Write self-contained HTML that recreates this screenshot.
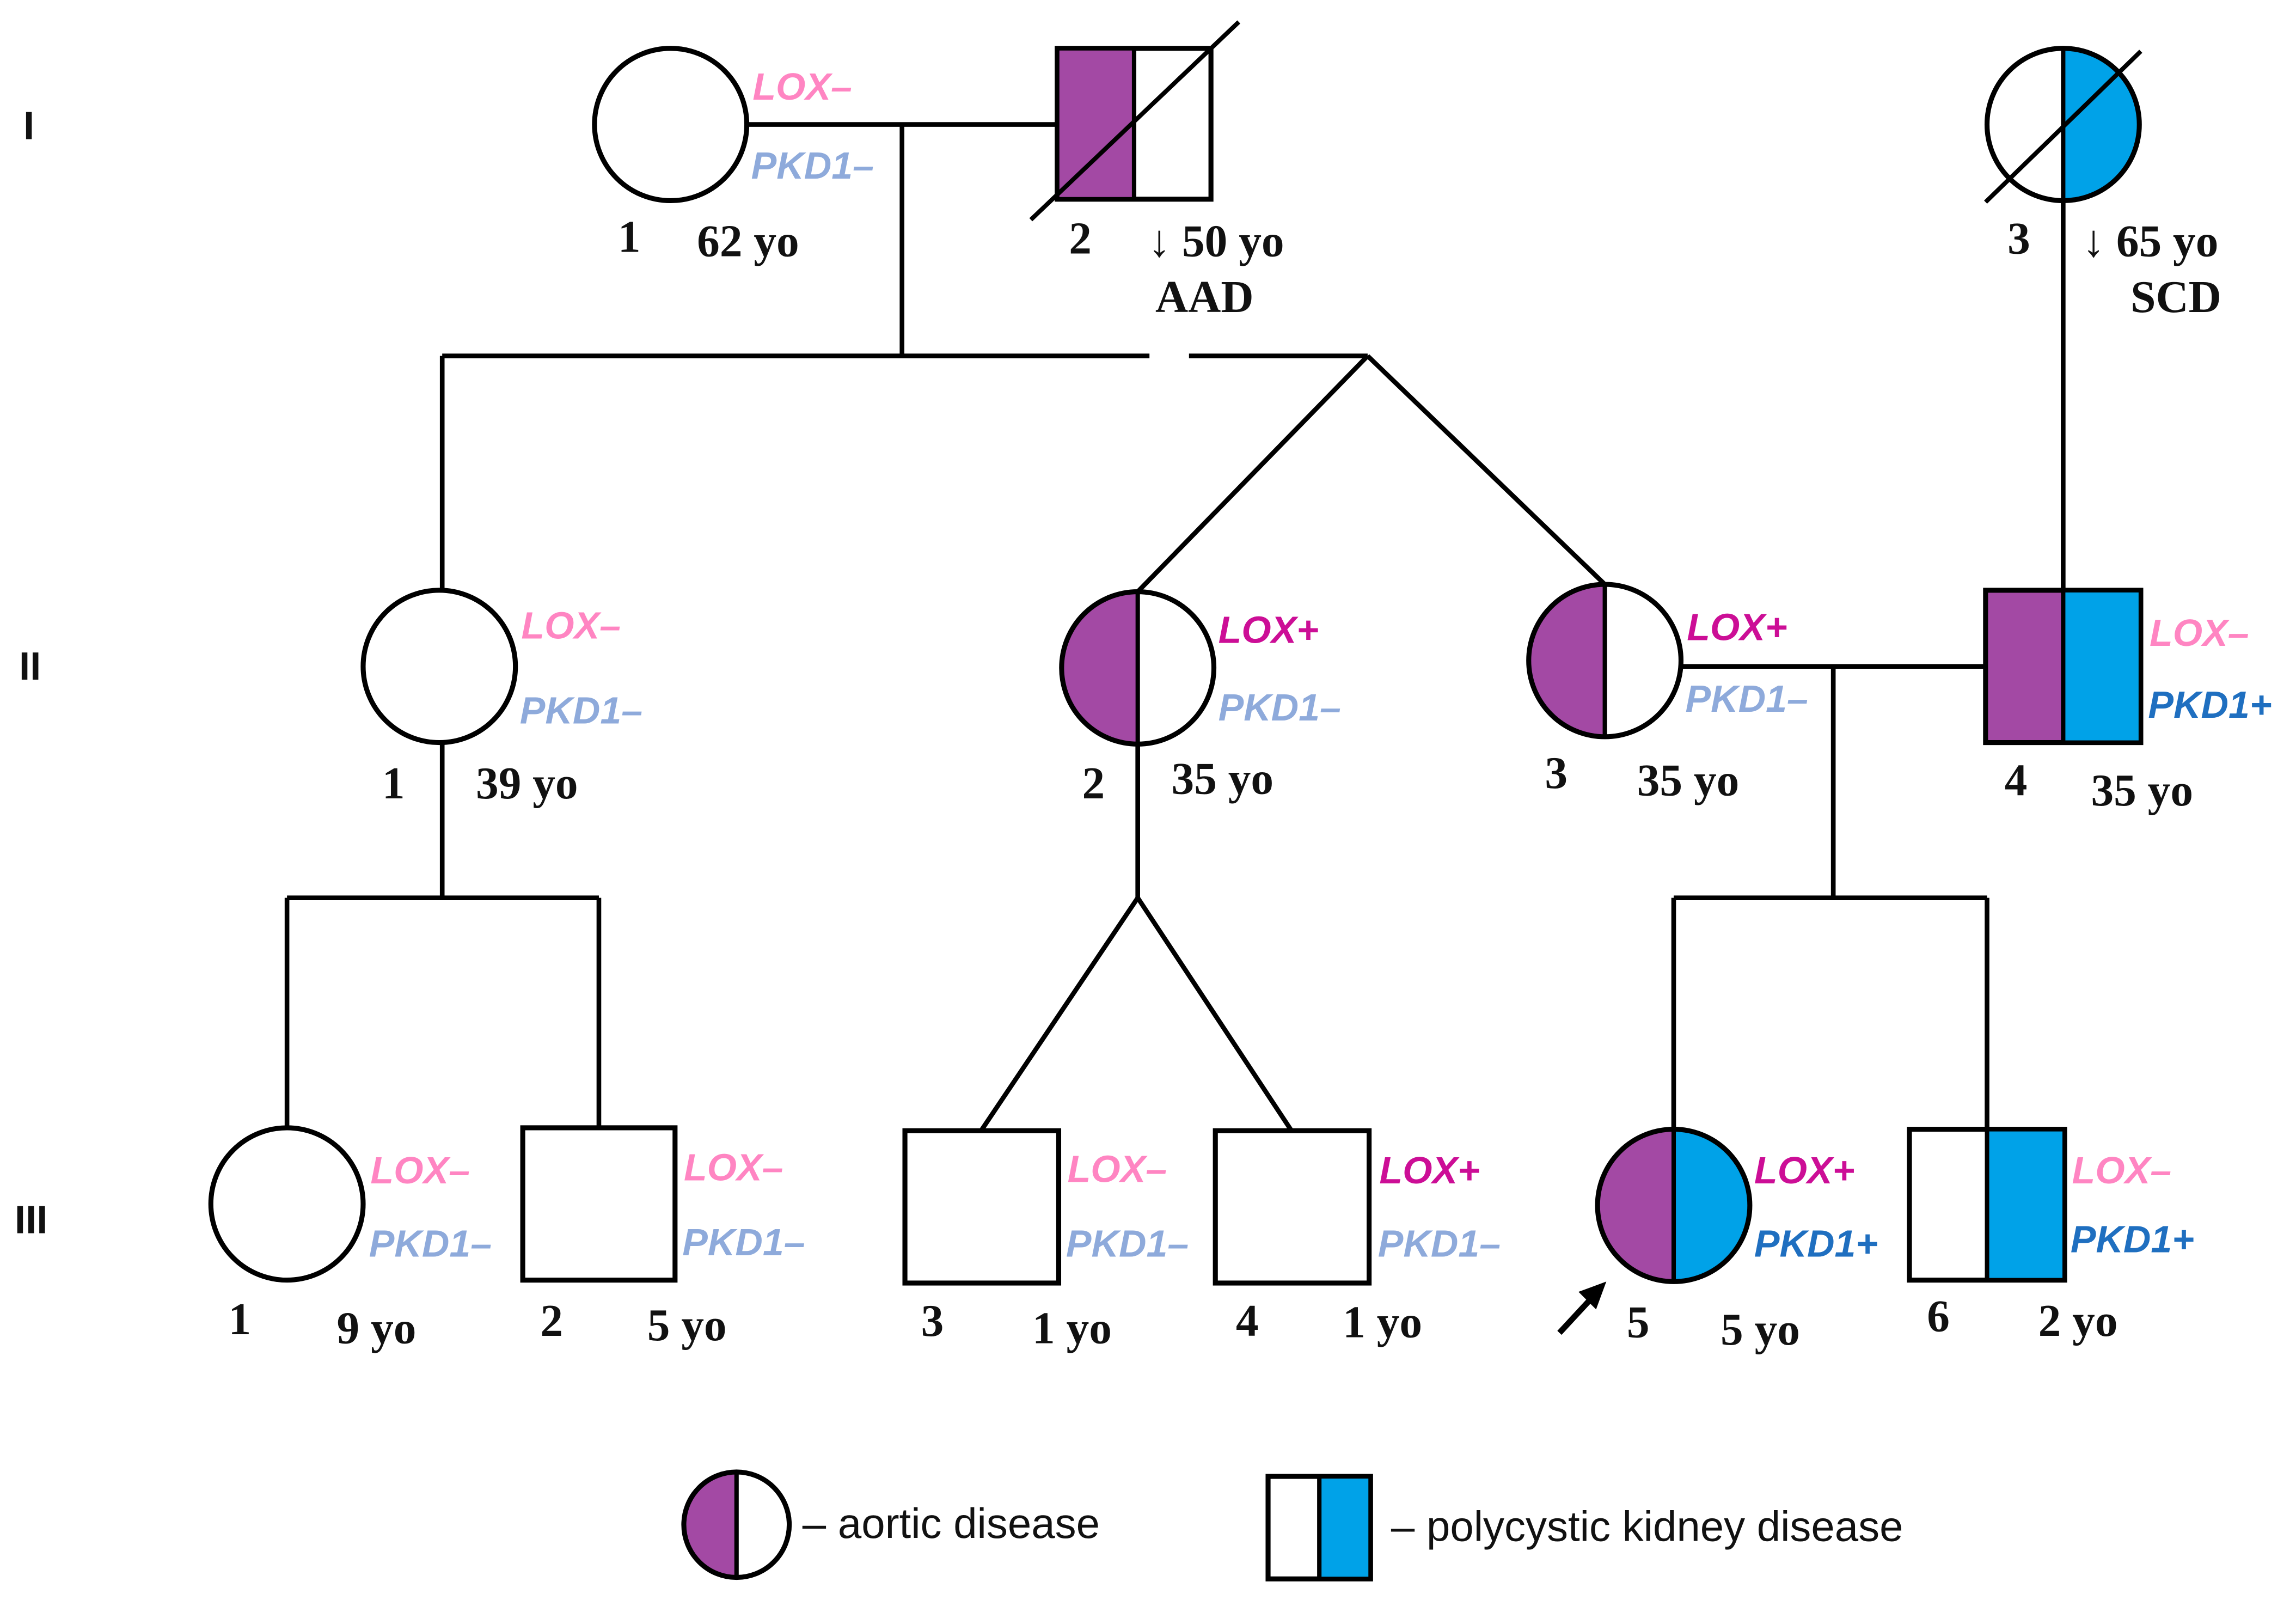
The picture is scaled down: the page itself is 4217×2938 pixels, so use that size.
<!DOCTYPE html>
<html><head><meta charset="utf-8"><style>
html,body{margin:0;padding:0;background:#fff;}
svg{display:block;}
.n{font-family:"Liberation Serif",serif;font-weight:bold;font-size:31px;fill:#111;}
.g{font-family:"Liberation Sans",sans-serif;font-weight:bold;font-style:italic;font-size:26px;}
.pk{fill:#ff85c2;} .lb{fill:#8eaadb;} .mg{fill:#cc0e96;} .db{fill:#1f6fc0;}
.r{font-family:"Liberation Sans",sans-serif;font-weight:bold;font-size:27px;fill:#111;}
.lg{font-family:"Liberation Sans",sans-serif;font-size:29px;fill:#111;}
</style></head><body>
<svg width="4217" height="2938" viewBox="0 0 1568 1092.4" preserveAspectRatio="none" xmlns="http://www.w3.org/2000/svg">
<defs>
<clipPath id="lh"><rect x="-100" y="-100" width="100" height="200"/></clipPath>
<clipPath id="rh"><rect x="0" y="-100" width="100" height="200"/></clipPath>
</defs>
<g stroke="#000" stroke-width="3.2" fill="none">
<line x1="510" y1="85" x2="722" y2="85"/>
<line x1="616" y1="85" x2="616" y2="243"/>
<line x1="1409" y1="137" x2="1409" y2="403"/>
<line x1="302" y1="243" x2="785" y2="243"/>
<line x1="812" y1="243" x2="934" y2="243"/>
<line x1="934" y1="243" x2="777" y2="404"/>
<line x1="934" y1="243" x2="1096" y2="399"/>
<line x1="302" y1="243" x2="302" y2="403"/>
<line x1="1148" y1="455" x2="1356" y2="455"/>
<line x1="1252" y1="455" x2="1252" y2="613"/>
<line x1="1143" y1="613" x2="1357" y2="613"/>
<line x1="1143" y1="613" x2="1143" y2="771"/>
<line x1="1357" y1="613" x2="1357" y2="771"/>
<line x1="302" y1="507" x2="302" y2="613"/>
<line x1="196" y1="613" x2="409" y2="613"/>
<line x1="196" y1="613" x2="196" y2="770"/>
<line x1="409" y1="613" x2="409" y2="770"/>
<line x1="777" y1="508" x2="777" y2="613"/>
<line x1="777" y1="613" x2="670" y2="772"/>
<line x1="777" y1="613" x2="882" y2="772"/>
</g>

<circle cx="458" cy="85" r="52" fill="#fff" stroke="#000" stroke-width="3.4"/>
<rect x="722" y="33" width="105" height="103" fill="#fff" stroke="#000" stroke-width="3.4"/>
<rect x="723.5" y="34.5" width="51" height="100" fill="#a349a4"/>
<line x1="774.5" y1="33" x2="774.5" y2="136" stroke="#000" stroke-width="3"/>
<line x1="704" y1="150" x2="846" y2="15" stroke="#000" stroke-width="3"/>
<g transform="translate(1409,85)">
<circle r="52" fill="#00a2e8" clip-path="url(#rh)"/>
<line x1="0" y1="-52" x2="0" y2="52" stroke="#000" stroke-width="3"/>
<circle r="52" fill="none" stroke="#000" stroke-width="3.4"/>
</g>
<line x1="1356" y1="138" x2="1462" y2="35" stroke="#000" stroke-width="3"/>

<circle cx="300" cy="455" r="52" fill="#fff" stroke="#000" stroke-width="3.4"/>
<g transform="translate(777,456)">
<circle r="52" fill="#a349a4" clip-path="url(#lh)"/>
<line x1="0" y1="-52" x2="0" y2="52" stroke="#000" stroke-width="3"/>
<circle r="52" fill="none" stroke="#000" stroke-width="3.4"/>
</g>
<g transform="translate(1096,451)">
<circle r="52" fill="#a349a4" clip-path="url(#lh)"/>
<line x1="0" y1="-52" x2="0" y2="52" stroke="#000" stroke-width="3"/>
<circle r="52" fill="none" stroke="#000" stroke-width="3.4"/>
</g>
<rect x="1356" y="403" width="106" height="104" fill="#a349a4" stroke="#000" stroke-width="3.4"/>
<rect x="1409" y="404.5" width="51.5" height="101" fill="#00a2e8"/>
<line x1="1409" y1="403" x2="1409" y2="507" stroke="#000" stroke-width="3"/>

<circle cx="196" cy="822" r="52" fill="#fff" stroke="#000" stroke-width="3.4"/>
<rect x="357" y="770" width="104" height="104" fill="#fff" stroke="#000" stroke-width="3.4"/>
<rect x="618" y="772" width="105" height="104" fill="#fff" stroke="#000" stroke-width="3.4"/>
<rect x="830" y="772" width="105" height="104" fill="#fff" stroke="#000" stroke-width="3.4"/>
<g transform="translate(1143,823)">
<circle r="52" fill="#a349a4" clip-path="url(#lh)"/>
<circle r="52" fill="#00a2e8" clip-path="url(#rh)"/>
<line x1="0" y1="-52" x2="0" y2="52" stroke="#000" stroke-width="3"/>
<circle r="52" fill="none" stroke="#000" stroke-width="3.4"/>
</g>
<rect x="1304" y="771" width="106" height="103" fill="#fff" stroke="#000" stroke-width="3.4"/>
<rect x="1357" y="772.5" width="51.5" height="100" fill="#00a2e8"/>
<line x1="1357" y1="771" x2="1357" y2="874" stroke="#000" stroke-width="3"/>
<line x1="1065" y1="910" x2="1090" y2="883" stroke="#000" stroke-width="4"/>
<polygon points="1097,875 1078,882 1090,894" fill="#000"/>

<g transform="translate(503,1041)">
<circle r="36" fill="#a349a4" clip-path="url(#lh)"/>
<line x1="0" y1="-36" x2="0" y2="36" stroke="#000" stroke-width="3"/>
<circle r="36" fill="none" stroke="#000" stroke-width="3.4"/>
</g>
<text x="548" y="1050" class="lg">– aortic disease</text>
<rect x="866" y="1008" width="70" height="70" fill="#fff" stroke="#000" stroke-width="3.4"/>
<rect x="901" y="1009.5" width="33.5" height="67" fill="#00a2e8"/>
<line x1="901" y1="1008" x2="901" y2="1078" stroke="#000" stroke-width="3"/>
<text x="950" y="1052" class="lg">– polycystic kidney disease</text>

<text x="16" y="95" class="r">I</text>
<text x="13" y="464" class="r">II</text>
<text x="10" y="842" class="r">III</text>

<text x="514" y="68" class="g pk">LOX–</text>
<text x="513" y="122" class="g lb">PKD1–</text>
<text x="356" y="436" class="g pk">LOX–</text>
<text x="355" y="494" class="g lb">PKD1–</text>
<text x="832" y="439" class="g mg">LOX+</text>
<text x="832" y="492" class="g lb">PKD1–</text>
<text x="1152" y="437" class="g mg">LOX+</text>
<text x="1151" y="486" class="g lb">PKD1–</text>
<text x="1468" y="441" class="g pk">LOX–</text>
<text x="1467" y="490" class="g db">PKD1+</text>
<text x="253" y="808" class="g pk">LOX–</text>
<text x="252" y="858" class="g lb">PKD1–</text>
<text x="467" y="806" class="g pk">LOX–</text>
<text x="466" y="857" class="g lb">PKD1–</text>
<text x="729" y="807" class="g pk">LOX–</text>
<text x="728" y="858" class="g lb">PKD1–</text>
<text x="942" y="808" class="g mg">LOX+</text>
<text x="941" y="858" class="g lb">PKD1–</text>
<text x="1198" y="808" class="g mg">LOX+</text>
<text x="1198" y="858" class="g db">PKD1+</text>
<text x="1415" y="808" class="g pk">LOX–</text>
<text x="1414" y="855" class="g db">PKD1+</text>

<text x="422" y="172" class="n">1</text><text x="476" y="175" class="n">62 yo</text>
<text x="730" y="173" class="n">2</text><text x="784" y="175" class="n">↓ 50 yo</text>
<text x="789" y="213" class="n">AAD</text>
<text x="1371" y="173" class="n">3</text><text x="1422" y="175" class="n">↓ 65 yo</text>
<text x="1455" y="213" class="n">SCD</text>
<text x="261" y="545" class="n">1</text><text x="325" y="545" class="n">39 yo</text>
<text x="739" y="545" class="n">2</text><text x="800" y="542" class="n">35 yo</text>
<text x="1055" y="538" class="n">3</text><text x="1118" y="543" class="n">35 yo</text>
<text x="1369" y="543" class="n">4</text><text x="1428" y="550" class="n">35 yo</text>
<text x="156" y="911" class="n">1</text><text x="230" y="917" class="n">9 yo</text>
<text x="369" y="912" class="n">2</text><text x="442" y="915" class="n">5 yo</text>
<text x="629" y="912" class="n">3</text><text x="705" y="917" class="n">1 yo</text>
<text x="844" y="912" class="n">4</text><text x="917" y="913" class="n">1 yo</text>
<text x="1111" y="913" class="n">5</text><text x="1175" y="918" class="n">5 yo</text>
<text x="1316" y="909" class="n">6</text><text x="1392" y="912" class="n">2 yo</text>
</svg>
</body></html>
